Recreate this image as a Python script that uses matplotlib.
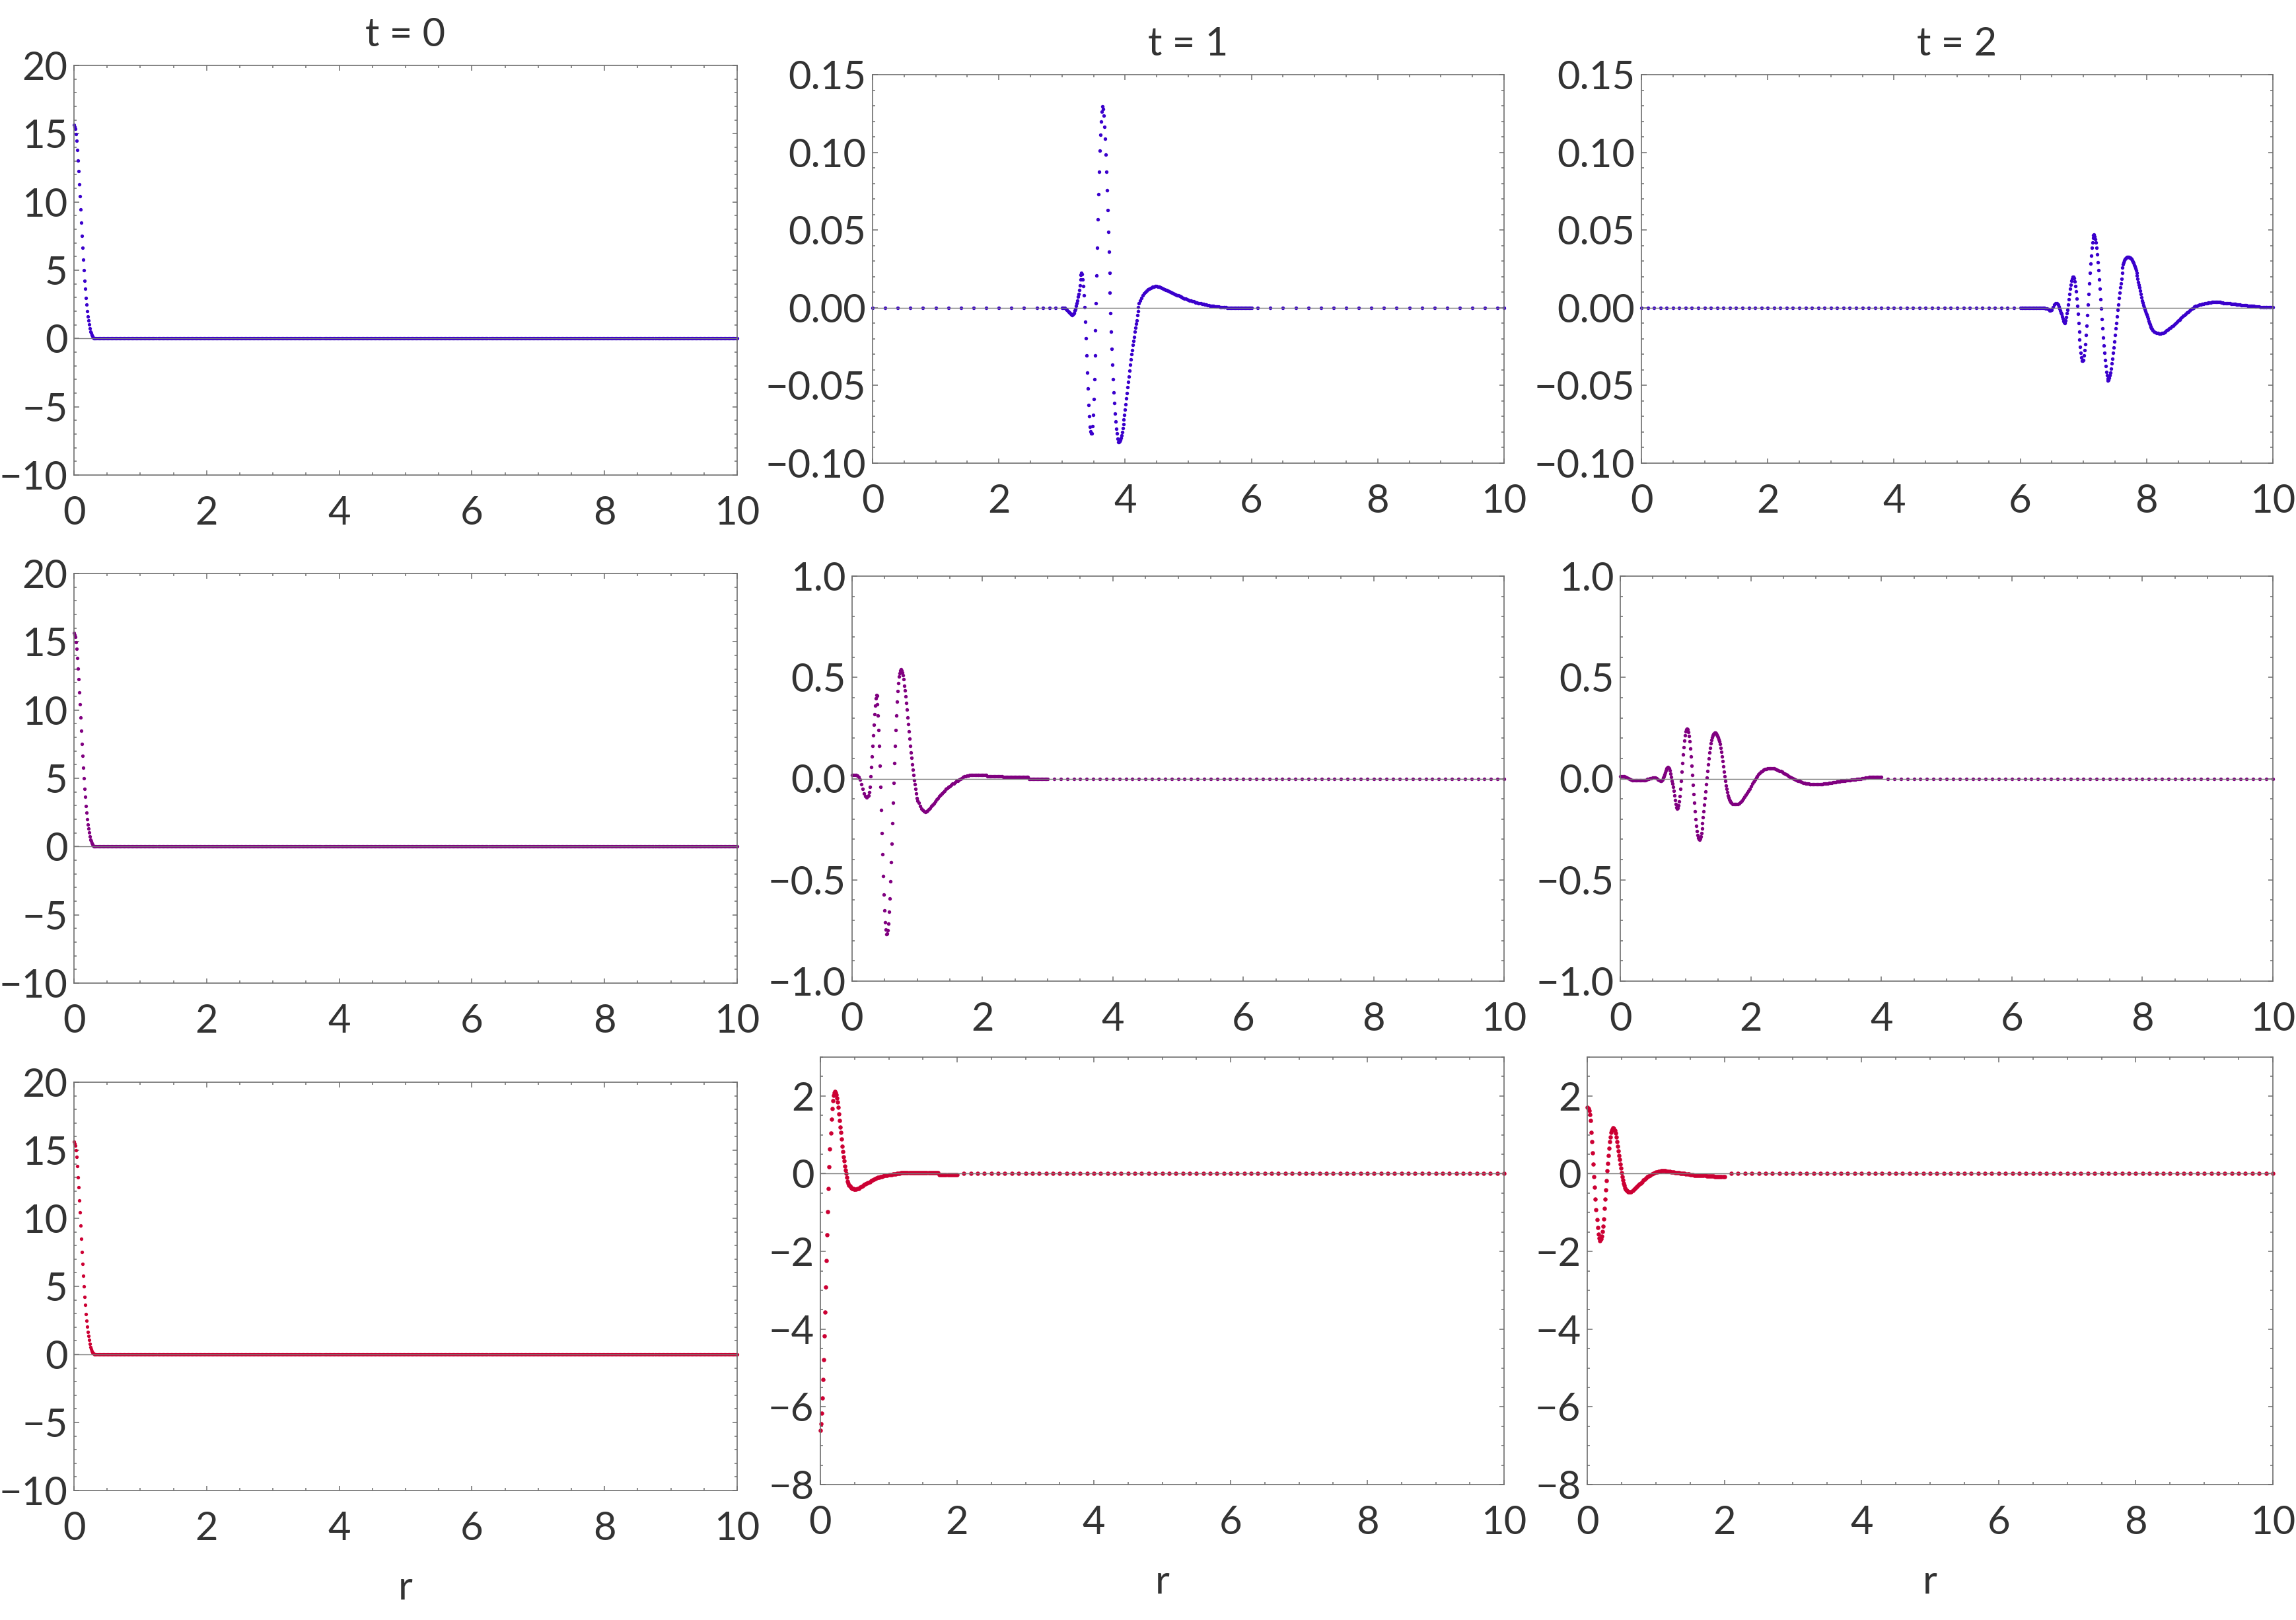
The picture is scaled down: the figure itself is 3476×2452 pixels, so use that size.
import numpy as np
import matplotlib
matplotlib.use("Agg")
import matplotlib.pyplot as plt
from matplotlib.ticker import MultipleLocator, FixedLocator, FuncFormatter

# ======================= DATA =======================
TITLES = ["t = 0", "t = 1", "t = 2"]
X_LABEL = "r"
ROW_COLORS = ["#3a00cc", "#800080", "#cc0033"]

# ---- t = 0 (identical in all three rows) : r = 0.00 .. 0.32, step 0.01
T0_STEEP = [15.63, 15.50, 15.35, 14.98, 14.50, 13.82, 13.03, 12.27, 11.31, 10.44,
            9.47, 8.48, 7.52, 6.65, 5.77, 5.02, 4.24, 3.66, 2.98, 2.50,
            2.02, 1.63, 1.34, 1.05, 0.76, 0.52, 0.38, 0.25, 0.15, 0.08,
            0.04, 0.02, 0.01]
T0_TAIL_VALUE = 0.0            # flat part r = 0.34 .. 10, step 0.02

# ---- row 1, t = 1
R1T1_A = [0.0, 0.0, -0.0002, -0.0008, -0.0015]                       # 3.00-3.08 /0.02
R1T1_B = [-0.0023, -0.0026, -0.0030, -0.0034, -0.0041, -0.0044, -0.0046, -0.0044, -0.0040, -0.0034,
          -0.0018, -0.0011, 0.0012, 0.0031, 0.0046, 0.0070, 0.0089, 0.0112, 0.0142, 0.0183,
          0.0211, 0.0223, 0.0214, 0.0180, 0.0139, 0.0080, 0.0003, -0.0092, -0.0196, -0.0306,
          -0.0416, -0.0520, -0.0624, -0.0700, -0.0768, -0.0798, -0.0810, -0.0810, -0.0761, -0.0691,
          -0.0589, -0.0462, -0.0306, -0.0144, 0.0028, 0.0206, 0.0387, 0.0567, 0.0729, 0.0875,
          0.1012, 0.1115, 0.1200, 0.1260, 0.1294, 0.1278, 0.1235, 0.1165, 0.1089, 0.0986,
          0.0875, 0.0755, 0.0627, 0.0489, 0.0361, 0.0225, 0.0096, -0.0034, -0.0153, -0.0263,
          -0.0367, -0.0460, -0.0546, -0.0615, -0.0683, -0.0734, -0.0777, -0.0810, -0.0841, -0.0862,
          -0.0862, -0.0858, -0.0850, -0.0838, -0.0822, -0.0800, -0.0775, -0.0748, -0.0720, -0.0690,
          -0.0655, -0.0620, -0.0585, -0.0550, -0.0511, -0.0477, -0.0443, -0.0405, -0.0367, -0.0332,
          -0.0298, -0.0272, -0.0240, -0.0214, -0.0187, -0.0156, -0.0128, -0.0102, -0.0080, -0.0049,
          -0.0023, 0.0003, 0.0028]                                    # 3.10-4.22 /0.01
R1T1_C = [0.0045, 0.0065, 0.0080, 0.0092, 0.0102, 0.0110, 0.0117, 0.0123, 0.0127, 0.0131,
          0.0134, 0.0137, 0.0138, 0.0138, 0.0137,
          0.0135, 0.0132, 0.0128, 0.0124, 0.0120, 0.0116, 0.0112, 0.0108, 0.0104, 0.0100,
          0.0096, 0.0092, 0.0089, 0.0085, 0.0081, 0.0078, 0.0074, 0.0070, 0.0067, 0.0063,
          0.0060, 0.0057, 0.0054, 0.0051, 0.0048, 0.0045, 0.0043, 0.0040, 0.0037, 0.0035,
          0.0033, 0.0031, 0.0029, 0.0027, 0.0025, 0.0023, 0.0021, 0.0019, 0.0017, 0.0015,
          0.0014, 0.0012, 0.0011, 0.0010, 0.0009, 0.0008, 0.0007, 0.0006, 0.0005, 0.0004,
          0.0004, 0.0003, 0.0003, 0.0002,
          0.0001, 0.0001, 0.0001, 0.0001, 0.0, 0.0, 0.0, 0.0, 0.0, 0.0,
          0.0, 0.0, 0.0, 0.0, 0.0, 0.0, 0.0, 0.0, 0.0, 0.0]          # 4.24-6.00 /0.02
R1T1_COARSE_R = [0.0, 0.2, 0.4, 0.6, 0.8, 1.0, 1.2, 1.4, 1.6, 1.8, 2.0, 2.2, 2.4, 2.6, 2.7, 2.8, 2.9,
                 6.1, 6.3, 6.5, 6.7, 6.9, 7.1, 7.3, 7.5, 7.7, 7.9, 8.1, 8.3, 8.5, 8.7, 8.9,
                 9.1, 9.3, 9.5, 9.7, 9.9, 10.0]

# ---- row 1, t = 2
R1T2_A = [0.0] * 20 + [-0.0003, -0.0007, -0.0011, -0.0016, -0.0016, -0.0012, 0.0004, 0.0019,
                       0.0029, 0.0030, 0.0020]                        # 6.00-6.60 /0.02
R1T2_B = [0.0008, -0.0003, -0.0017, -0.0030, -0.0038, -0.0055, -0.0070, -0.0088, -0.0095, -0.0097,
          -0.0092, -0.0083, -0.0060, -0.0035, -0.0013, 0.0021, 0.0054, 0.0089, 0.0123, 0.0148,
          0.0174, 0.0188, 0.0197, 0.0199, 0.0190, 0.0168, 0.0140, 0.0105, 0.0060, 0.0012,
          -0.0040, -0.0100, -0.0155, -0.0205, -0.0250, -0.0290, -0.0320, -0.0342, -0.0342, -0.0335,
          -0.0309, -0.0275, -0.0233, -0.0174, -0.0114, -0.0048, 0.0020, 0.0089, 0.0157, 0.0223,
          0.0284, 0.0333, 0.0386, 0.0418, 0.0449, 0.0465, 0.0470, 0.0460, 0.0442, 0.0418,
          0.0386, 0.0343, 0.0292, 0.0242, 0.0182, 0.0123, 0.0055, -0.0006, -0.0072, -0.0131,
          -0.0191, -0.0242, -0.0292, -0.0336, -0.0377, -0.0412, -0.0436, -0.0455, -0.0469, -0.0465,
          -0.0451, -0.0435, -0.0419, -0.0391, -0.0359, -0.0328, -0.0292, -0.0256, -0.0216, -0.0175,
          -0.0131, -0.0097, -0.0055, -0.0013, 0.0021, 0.0064, 0.0097, 0.0131, 0.0157, 0.0188,
          0.0223, 0.0258, 0.0280, 0.0294, 0.0305, 0.0312, 0.0318, 0.0322, 0.0325, 0.0326,
          0.0326, 0.0326, 0.0324, 0.0322, 0.0318, 0.0314, 0.0306, 0.0297, 0.0287, 0.0275,
          0.0265, 0.0255, 0.0240, 0.0225, 0.0209, 0.0188, 0.0167, 0.0150, 0.0131, 0.0110,
          0.0089, 0.0068, 0.0047, 0.0032, 0.0018, 0.0004, -0.0010, -0.0020, -0.0033, -0.0044,
          -0.0057, -0.0071, -0.0084, -0.0097, -0.0108, -0.0118, -0.0126, -0.0133, -0.0139, -0.0145]  # 6.61-8.10 /0.01
R1T2_C = [-0.0153, -0.0158, -0.0162, -0.0164, -0.0165, -0.0165, -0.0164, -0.0161, -0.0158, -0.0153,
          -0.0147, -0.0141, -0.0134, -0.0128, -0.0121, -0.0114, -0.0106, -0.0099, -0.0091, -0.0083,
          -0.0076, -0.0068, -0.0061, -0.0053, -0.0046, -0.0039, -0.0032, -0.0025, -0.0018, -0.0011,
          -0.0005, 0.0001, 0.0006, 0.0010, 0.0013, 0.0016, 0.0019, 0.0022, 0.0024, 0.0026,
          0.0027, 0.0028, 0.0030, 0.0032, 0.0034, 0.0035, 0.0036, 0.0037, 0.0038, 0.0038,
          0.0038, 0.0037, 0.0036, 0.0035, 0.0033, 0.0031, 0.0030, 0.0029, 0.0028, 0.0027,
          0.0027, 0.0026, 0.0025, 0.0024, 0.0023, 0.0021, 0.0020, 0.0020, 0.0019, 0.0018,
          0.0018, 0.0017, 0.0016, 0.0015, 0.0014, 0.0013, 0.0013, 0.0012, 0.0011, 0.0010,
          0.0009, 0.0008, 0.0007, 0.0006, 0.0005, 0.0004, 0.0004, 0.0003, 0.0003, 0.0003,
          0.0003, 0.0003, 0.0003, 0.0002, 0.0002]                     # 8.12-10.00 /0.02
R1T2_COARSE_R = np.round(np.arange(0.0, 5.95, 0.1), 2)

# ---- row 2, t = 1
R2T1_A = [0.019, 0.019, 0.019, 0.018, 0.016, 0.008, -0.006, -0.028, -0.052, -0.072, -0.086, -0.092]  # 0-0.22 /0.02
R2T1_B = [-0.088, -0.082, -0.068, -0.040, 0.012, 0.057, 0.109, 0.163, 0.215, 0.266,
          0.319, 0.359, 0.397, 0.413, 0.408, 0.367, 0.313, 0.240, 0.163, 0.064,
          -0.041, -0.154, -0.270, -0.375, -0.480, -0.572, -0.651, -0.711, -0.745, -0.769,
          -0.765, -0.749, -0.715, -0.656, -0.591, -0.507, -0.414, -0.323, -0.219, -0.120,
          -0.022, 0.077, 0.163, 0.240, 0.313, 0.379, 0.431, 0.470, 0.504, 0.522,
          0.535, 0.539, 0.535, 0.525, 0.510, 0.490, 0.460, 0.437, 0.405, 0.372,
          0.340, 0.302, 0.268, 0.234, 0.196, 0.162, 0.129, 0.103, 0.071, 0.043,
          0.019, -0.007, -0.027, -0.049, -0.072, -0.095, -0.110]    # 0.24-1.00 /0.01
R2T1_C = ([-0.118, -0.136, -0.149, -0.156, -0.161, -0.164, -0.163, -0.158, -0.152, -0.145,
           -0.137, -0.130, -0.121, -0.112, -0.104, -0.096, -0.088, -0.081, -0.073, -0.066,
           -0.059, -0.052, -0.046, -0.041, -0.036, -0.031, -0.026, -0.023, -0.019, -0.013,
           -0.010, -0.005, -0.002, 0.003, 0.007, 0.010, 0.013, 0.015, 0.016]
          + [0.018] * 14 + [0.013] * 12 + [0.008] * 20 + [0.0] * 15)  # 1.02-3.00 /0.02
R2T1_COARSE_R = np.round(np.arange(3.1, 10.05, 0.1), 2)

# ---- row 2, t = 2
R2T2_A = ([0.013, 0.013, 0.012, 0.011, 0.009, 0.006, 0.002, -0.001, -0.004, -0.007, -0.009]
          + [-0.009] * 8
          + [-0.008, -0.005, -0.003, 0.000, 0.002, 0.003, 0.004, 0.005, 0.004, 0.002, -0.004, -0.009])  # 0-0.60 /0.02
R2T2_B = [-0.011, -0.010, -0.007, -0.004, 0.004, 0.013, 0.022, 0.030, 0.040, 0.050,
          0.054, 0.057, 0.055, 0.050, 0.040, 0.025, 0.008, -0.011, -0.024, -0.040,
          -0.060, -0.084, -0.105, -0.125, -0.141, -0.150, -0.145, -0.132, -0.112, -0.085,
          -0.050, -0.010, 0.035, 0.078, 0.118, 0.155, 0.188, 0.214, 0.233, 0.244,
          0.247, 0.243, 0.230, 0.210, 0.183, 0.150, 0.110, 0.064, 0.017, -0.030,
          -0.076, -0.120, -0.162, -0.200, -0.232, -0.258, -0.278, -0.292, -0.299, -0.301,
          -0.296, -0.285, -0.268, -0.246, -0.220, -0.190, -0.160, -0.128, -0.095, -0.062,
          -0.028, 0.006, 0.039, 0.071, 0.100, 0.128, 0.152, 0.173, 0.190, 0.203,
          0.213, 0.220, 0.225, 0.227, 0.226, 0.223, 0.218, 0.212, 0.205, 0.195,
          0.185, 0.170, 0.152, 0.132, 0.110, 0.085, 0.060, 0.035, 0.010, -0.012,
          -0.033, -0.052, -0.068, -0.082, -0.093, -0.103, -0.110, -0.116, -0.120]  # 0.62-1.70 /0.01
R2T2_C = ([-0.124, -0.127, -0.127, -0.127, -0.125, -0.121, -0.115, -0.108, -0.099, -0.090,
           -0.081, -0.070, -0.060, -0.049, -0.037, -0.026, -0.015, -0.005, 0.004, 0.013,
           0.020, 0.027, 0.033, 0.038, 0.043, 0.046, 0.048, 0.050, 0.051, 0.051,
           0.051, 0.050, 0.049, 0.047, 0.045, 0.042, 0.039, 0.036, 0.033, 0.029,
           0.025, 0.021, 0.017, 0.013, 0.009, 0.005, 0.001, -0.002, -0.006, -0.009,
           -0.011, -0.013, -0.015, -0.017, -0.020, -0.022, -0.024, -0.025, -0.026, -0.027]
          + [-0.027] * 10
          + [-0.026, -0.026, -0.025, -0.024, -0.022, -0.021, -0.020, -0.019, -0.018, -0.017,
             -0.016, -0.015, -0.014, -0.013, -0.012, -0.011, -0.010, -0.009, -0.009, -0.008,
             -0.007, -0.006, -0.006, -0.005, -0.004, -0.003, -0.002, -0.001, 0.000, 0.001,
             0.002, 0.003, 0.004, 0.005, 0.006]
          + [0.007] * 10)                                              # 1.72-4.00 /0.02
R2T2_COARSE_R = np.round(np.arange(4.1, 10.05, 0.1), 2)

# ---- row 3, t = 1
R3T1_A = [-6.60, -6.43, -6.16, -5.78, -5.30, -4.79, -4.18, -3.56, -2.91, -2.23,
          -1.58, -0.97, -0.39, 0.17, 0.64, 1.05, 1.40, 1.67, 1.87, 2.01,
          2.09, 2.11, 2.08, 2.03, 1.94, 1.84, 1.71, 1.53, 1.36, 1.20,
          1.06, 0.89, 0.71, 0.57, 0.44, 0.33, 0.20, 0.10, 0.00, -0.10,
          -0.20, -0.25, -0.29, -0.32, -0.345, -0.36, -0.375, -0.385, -0.39, -0.395,
          -0.40]                                                       # 0-0.50 /0.01
R3T1_B = ([-0.40, -0.39, -0.375, -0.355, -0.335, -0.31, -0.285, -0.265, -0.245, -0.225,
           -0.205, -0.185, -0.165, -0.145, -0.13, -0.115, -0.10, -0.09, -0.08, -0.07,
           -0.06, -0.05, -0.04, -0.035, -0.03, -0.02, -0.02, -0.01, -0.01, -0.005,
           0.0, 0.0, 0.005]
          + [0.02] * 28 + [-0.03] * 14)                                # 0.52-2.00 /0.02
R3T1_COARSE_R = np.round(np.arange(2.1, 10.05, 0.1), 2)

# ---- row 3, t = 2
R3T2_A = [1.70, 1.69, 1.67, 1.63, 1.52, 1.36, 1.06, 0.82, 0.54, 0.24,
          -0.07, -0.35, -0.66, -0.93, -1.18, -1.38, -1.56, -1.65, -1.72, -1.70,
          -1.67, -1.61, -1.48, -1.35, -1.16, -0.90, -0.66, -0.42, -0.18, 0.07,
          0.27, 0.47, 0.65, 0.82, 0.95, 1.07, 1.12, 1.15, 1.18, 1.17,
          1.12, 1.04, 0.94, 0.83, 0.71, 0.59, 0.47, 0.36, 0.25, 0.14,
          0.03, -0.08, -0.17, -0.24, -0.30, -0.36, -0.40, -0.42, -0.44, -0.45,
          -0.46]                                                       # 0-0.60 /0.01
R3T2_B = [-0.46, -0.46, -0.44, -0.40, -0.37, -0.34, -0.30, -0.27, -0.24, -0.21,
          -0.17, -0.14, -0.11, -0.08, -0.06, -0.04, -0.01, 0.01, 0.02, 0.04,
          0.05, 0.06, 0.065, 0.07, 0.07, 0.07, 0.07, 0.065, 0.06, 0.055,
          0.05, 0.04, 0.035, 0.03, 0.025, 0.02, 0.02, 0.01, 0.01, 0.0,
          0.0, -0.01, -0.01, -0.015, -0.02, -0.025, -0.03, -0.035, -0.04, -0.04,
          -0.04, -0.045, -0.045, -0.05, -0.05, -0.05, -0.055, -0.055, -0.06, -0.06,
          -0.065, -0.065, -0.07, -0.07, -0.07, -0.07, -0.07, -0.07, -0.07, -0.07]  # 0.62-2.00 /0.02
R3T2_COARSE_R = np.round(np.arange(2.1, 10.05, 0.1), 2)

# y ranges / ticks per row (columns t=1, t=2)
T0_YLIM, T0_YMAJOR, T0_YMINOR, T0_FMT = (-10, 20), 5, 1, "{:.0f}"
ROW_YLIM = [(-0.10, 0.15), (-1.0, 1.0), (-8.0, 3.0)]
ROW_YTICKS = [[-0.10, -0.05, 0.0, 0.05, 0.10, 0.15],
              [-1.0, -0.5, 0.0, 0.5, 1.0],
              [-8, -6, -4, -2, 0, 2]]
ROW_YMINOR = [0.01, 0.1, 0.5]
ROW_FMT = ["{:.2f}", "{:.1f}", "{:.0f}"]

# ======================= FIGURE =======================
W, H, DPI = 3476, 2452, 100
plt.rcParams["font.family"] = ["Lato", "DejaVu Sans"]
fig = plt.figure(figsize=(W / DPI, H / DPI), dpi=DPI, facecolor="white")

FS = 43
TXT = "#333333"
FRAME = "#6e6e6e"

# plot-frame boxes in pixels: (left, top, right, bottom)
BOXES = [
    [(112, 99, 1116, 719), (1321, 113, 2277, 701), (2485, 113, 3441, 701)],
    [(112, 868, 1116, 1488), (1290, 872, 2277, 1485), (2453, 872, 3441, 1485)],
    [(112, 1638, 1116, 2256), (1242, 1600, 2277, 2247), (2403, 1600, 3441, 2247)],
]


def seg(r0, step, vals):
    vals = np.asarray(vals, dtype=float)
    return np.round(r0 + step * np.arange(len(vals)), 4), vals


def fmt_factory(fmt):
    def f(v, pos):
        if abs(v) < 1e-9:
            v = 0.0
        return fmt.format(v).replace("-", "\u2212")
    return FuncFormatter(f)


t0_tail_r = np.round(np.arange(0.34, 10.0001, 0.02), 2)
PANEL_DATA = {
    (1, 1): ([seg(3.00, 0.02, R1T1_A), seg(3.10, 0.01, R1T1_B), seg(4.24, 0.02, R1T1_C)], R1T1_COARSE_R),
    (1, 2): ([seg(6.00, 0.02, R1T2_A), seg(6.61, 0.01, R1T2_B), seg(8.12, 0.02, R1T2_C)], R1T2_COARSE_R),
    (2, 1): ([seg(0.00, 0.02, R2T1_A), seg(0.24, 0.01, R2T1_B), seg(1.02, 0.02, R2T1_C)], R2T1_COARSE_R),
    (2, 2): ([seg(0.00, 0.02, R2T2_A), seg(0.62, 0.01, R2T2_B), seg(1.72, 0.02, R2T2_C)], R2T2_COARSE_R),
    (3, 1): ([seg(0.00, 0.01, R3T1_A), seg(0.52, 0.02, R3T1_B)], R3T1_COARSE_R),
    (3, 2): ([seg(0.00, 0.01, R3T2_A), seg(0.62, 0.02, R3T2_B)], R3T2_COARSE_R),
}

for row in range(3):
    for col in range(3):
        l, t, r, b = BOXES[row][col]
        ax = fig.add_axes([l / W, 1 - b / H, (r - l) / W, (b - t) / H])
        color = ROW_COLORS[row]

        if col == 0:
            segments = [seg(0.0, 0.01, T0_STEEP),
                        (t0_tail_r, np.full(len(t0_tail_r), T0_TAIL_VALUE))]
            coarse = []
            ms = 3.8
            ylim = T0_YLIM
            yticks = list(range(-10, 21, T0_YMAJOR))
            yminor = T0_YMINOR
            yfmt = T0_FMT
        else:
            segments, coarse = PANEL_DATA[(row + 1, col)]
            ms = 4.7 if row == 2 else 3.9
            ylim = ROW_YLIM[row]
            yticks = ROW_YTICKS[row]
            yminor = ROW_YMINOR[row]
            yfmt = ROW_FMT[row]

        for rr, yy in segments:
            ax.plot(rr, yy, linestyle="none", marker="o", ms=ms, mfc=color,
                    mec="none", clip_on=False, zorder=2)
        if len(coarse):
            ax.plot(coarse, np.zeros(len(coarse)), linestyle="none", marker="o", ms=ms,
                    mfc=color, mec="none", clip_on=False, zorder=2)

        ax.axhline(0, color="#7a7a7a", lw=1.0, zorder=3)

        ax.set_xlim(0, 10)
        ax.set_ylim(*ylim)
        ax.xaxis.set_major_locator(FixedLocator([0, 2, 4, 6, 8, 10]))
        ax.xaxis.set_minor_locator(MultipleLocator(0.5))
        ax.yaxis.set_major_locator(FixedLocator(yticks))
        ax.yaxis.set_minor_locator(MultipleLocator(yminor))
        ax.xaxis.set_major_formatter(fmt_factory("{:.0f}"))
        ax.yaxis.set_major_formatter(fmt_factory(yfmt))

        for sp in ax.spines.values():
            sp.set_color(FRAME)
            sp.set_linewidth(1.2)
        ax.tick_params(which="both", direction="in", top=True, right=True,
                       color=FRAME, width=1.1, labelcolor=TXT, labelsize=FS)
        ax.tick_params(which="major", length=5.4)
        ax.tick_params(which="minor", length=2.9)
        ax.tick_params(axis="x", which="major", pad=22)
        ax.tick_params(axis="y", which="major", pad=7)

        if row == 0:
            ax.set_title(TITLES[col], fontsize=FS, color=TXT, pad=21)
        if row == 2:
            ax.set_xlabel(X_LABEL, fontsize=FS, color=TXT, labelpad=26)

fig.savefig("out.png", dpi=DPI, facecolor="white")
